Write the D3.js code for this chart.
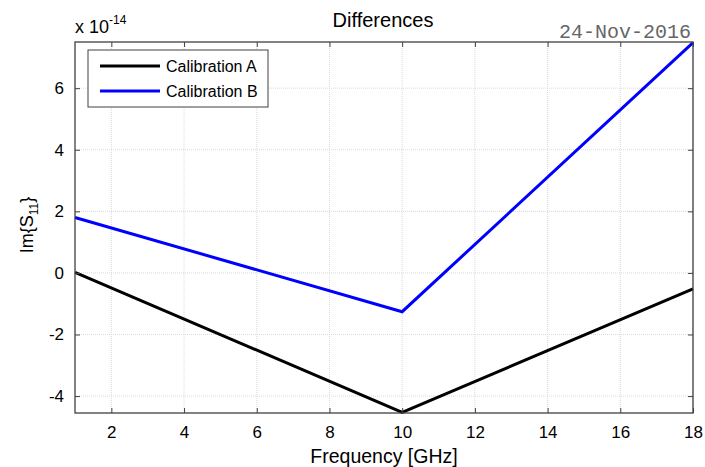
<!DOCTYPE html>
<html>
<head>
<meta charset="utf-8">
<script src="https://cdn.jsdelivr.net/npm/d3@7"></script>
<style>
  body { margin: 0; background: #fff; }
  text { font-family: "Liberation Sans", Arial, sans-serif; fill: #000; }
</style>
</head>
<body>
<div id="chart"></div>
<script>
var freq = [1, 10, 18];
var calA = [0.02, -4.53, -0.52];
var calB = [1.80, -1.26, 7.48];
var seriesNames = ["Calibration A", "Calibration B"];
var seriesColors = ["#000000", "#0000ff"];
var xTicks = [2, 4, 6, 8, 10, 12, 14, 16, 18];
var yTicks = [-4, -2, 0, 2, 4, 6];

var W = 705, H = 467;
var margin = {top: 42, right: 12, bottom: 54, left: 75},
    width = W - margin.left - margin.right,
    height = H - margin.top - margin.bottom;

var xScale = d3.scaleLinear().domain([1, 18]).range([0, width]);
var yScale = d3.scaleLinear().domain([-4.55, 7.5]).range([height, 0]);

var svg = d3.select("#chart").append("svg")
    .attr("width", W)
    .attr("height", H);

var g = svg.append("g")
    .attr("transform", "translate(" + margin.left + "," + margin.top + ")");

// grid
g.append("g").selectAll("line").data(xTicks).enter().append("line")
    .attr("x1", function(d) { return xScale(d); })
    .attr("x2", function(d) { return xScale(d); })
    .attr("y1", 0).attr("y2", height)
    .attr("stroke", "#dadada").attr("stroke-dasharray", "1,1");
g.append("g").selectAll("line").data(yTicks).enter().append("line")
    .attr("y1", function(d) { return yScale(d); })
    .attr("y2", function(d) { return yScale(d); })
    .attr("x1", 0).attr("x2", width)
    .attr("stroke", "#dadada").attr("stroke-dasharray", "1,1");

// data lines
var line = d3.line()
    .x(function(d) { return xScale(d[0]); })
    .y(function(d) { return yScale(d[1]); });

[calA, calB].forEach(function(vals, i) {
  g.append("path")
    .datum(freq.map(function(f, j) { return [f, vals[j]]; }))
    .attr("fill", "none")
    .attr("stroke", seriesColors[i])
    .attr("stroke-width", 3)
    .attr("d", line);
});

// axes (ticks inside, all four sides)
var fmt = function(d) { return String(d); };  // plain hyphen minus
function styleAxis(sel) {
  sel.select(".domain").remove();
  sel.selectAll(".tick line").attr("stroke", "#404040");
  sel.selectAll(".tick text").style("font-size", "17px").attr("fill", "#000");
}
g.append("g").attr("transform", "translate(0," + height + ")")
  .call(d3.axisBottom(xScale).tickValues(xTicks).tickFormat(fmt).tickSizeInner(-5).tickSizeOuter(0).tickPadding(13))
  .call(styleAxis);
g.append("g")
  .call(d3.axisTop(xScale).tickValues(xTicks).tickSizeInner(-5).tickSizeOuter(0).tickFormat(""))
  .call(styleAxis);
g.append("g")
  .call(d3.axisLeft(yScale).tickValues(yTicks).tickFormat(fmt).tickSizeInner(-5).tickSizeOuter(0).tickPadding(11))
  .call(styleAxis);
g.append("g").attr("transform", "translate(" + width + ",0)")
  .call(d3.axisRight(yScale).tickValues(yTicks).tickSizeInner(-5).tickSizeOuter(0).tickFormat(""))
  .call(styleAxis);

g.append("rect")
  .attr("width", width).attr("height", height)
  .attr("fill", "none").attr("stroke", "#404040").attr("stroke-width", 1.3);

// exponent label
var expo = svg.append("text").attr("x", 75).attr("y", 33).style("font-size", "18px");
expo.append("tspan").text("x 10");
expo.append("tspan").attr("dy", -9).style("font-size", "12px").text("-14");

// title
svg.append("text").attr("x", 383).attr("y", 27).attr("text-anchor", "middle")
  .style("font-size", "20px").text("Differences");

// date stamp
svg.append("text").attr("x", 691).attr("y", 38).attr("text-anchor", "end")
  .style("font-family", "'Liberation Mono', 'DejaVu Sans Mono', monospace")
  .style("font-size", "20px").style("fill", "#666")
  .text("24-Nov-2016");

// x label
svg.append("text").attr("x", 384).attr("y", 463).attr("text-anchor", "middle")
  .style("font-size", "19.5px").text("Frequency [GHz]");

// y label
var yl = svg.append("text")
  .attr("transform", "translate(33," + 225 + ") rotate(-90)")
  .attr("text-anchor", "middle").style("font-size", "18px");
yl.append("tspan").text("Im{S");
yl.append("tspan").attr("dy", 5).style("font-size", "12px").text("11");
yl.append("tspan").attr("dy", -5).text("}");

// legend
var lg = svg.append("g").attr("transform", "translate(88,50)");
lg.append("rect").attr("width", 180).attr("height", 57)
  .attr("fill", "#fff").attr("stroke", "#404040").attr("stroke-width", 1);
seriesNames.forEach(function(name, i) {
  var y = 16 + i * 25;
  lg.append("line").attr("x1", 12).attr("x2", 72).attr("y1", y).attr("y2", y)
    .attr("stroke", seriesColors[i]).attr("stroke-width", 3);
  lg.append("text").attr("x", 78).attr("y", y + 5.5).style("font-size", "16px").text(name);
});
</script>
</body>
</html>
